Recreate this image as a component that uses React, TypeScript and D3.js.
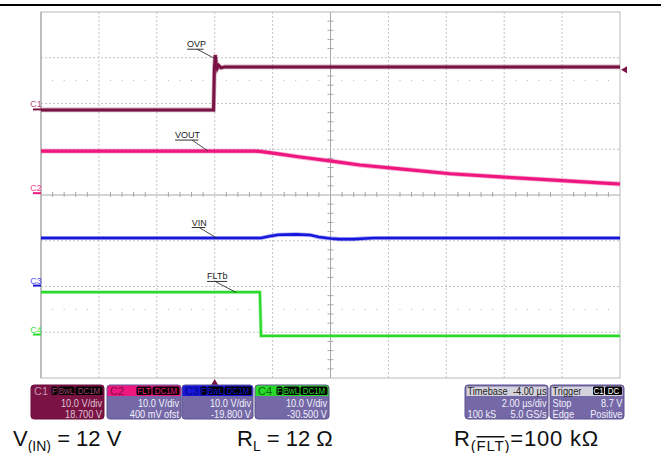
import React from 'react';
import * as d3 from 'd3';

const W = 661, H = 453;
const PX0 = 41, PX1 = 620, PY0 = 12, PY1 = 378;

// time axis (µs): 2 µs/div, 10 divs, trigger at 3rd div
const timeDomain = [-6, 14];
const divDomain = [-4, 4];

// Channel settings (V/div, offset V)
const chNames = ['C1', 'C2', 'C3', 'C4'];
const chColors = ['#7b1244', '#ee1780', '#1616dc', '#2ada2a'];
const chLabelColors = ['#b0507e', '#f0408e', '#5050f0', '#44e044'];
const chVdiv = [10, 10, 10, 10];
const chOffset = [18.7, 0.4, -19.8, -30.5];

// OVP (C1)
const ovpT = [-6, -0.04, -0.01, 0.02, 0.05, 0.09, 0.14, 0.22, 0.35, 14];
const ovpV = [-0.1, -0.1, 9.2, 11.9, 10.2, 9.0, 9.6, 9.1, 9.3, 9.3];
// VOUT (C2)
const voutT = [-6, 1.2, 1.56, 2.2, 2.95, 3.98, 5.02, 6.4, 8.13, 9.86, 11.58, 13.31, 14];
const voutV = [9.2, 9.2, 9.15, 8.6, 7.9, 7.05, 6.15, 5.3, 4.25, 3.55, 2.9, 2.25, 2.0];
// VIN (C3)
const vinT = [-6, 1.6, 1.9, 2.2, 2.8, 3.3, 3.6, 4.0, 4.3, 4.8, 5.2, 5.5, 14];
const vinV = [10.4, 10.4, 10.8, 11.1, 11.2, 11.05, 10.6, 10.3, 10.15, 10.15, 10.3, 10.4, 10.4];
// FLTb (C4)
const fltT = [-6, 1.56, 1.6, 14];
const fltV = [9.25, 9.25, -0.3, -0.3];

const annText = ['OVP', 'VOUT', 'VIN', 'FLTb'];
const annCh = [0, 1, 2, 3];
const annT = [-0.02, -0.23, 0.07, 0.74];
const annV = [11.2, 9.2, 10.4, 9.2];

const trigLevel = 8.7;

const CT = (p: { x: number; y: number; a?: string; s: number; f: string; children: any }) => (
  <text transform={`translate(${p.x},${p.y}) scale(0.88,1)`} fontSize={p.s} textAnchor={p.a || 'start'} fill={p.f}>{p.children}</text>
);

export default function App() {
  const x = d3.scaleLinear().domain(timeDomain).range([PX0, PX1]);
  const y = d3.scaleLinear().domain(divDomain).range([PY1, PY0]);
  const yv = (ch: number, v: number) => y((v + chOffset[ch]) / chVdiv[ch]);

  const series = [
    { t: ovpT, v: ovpV, w: 3 },
    { t: voutT, v: voutV, w: 3.2 },
    { t: vinT, v: vinV, w: 2.6 },
    { t: fltT, v: fltV, w: 2.2 },
  ];

  const xDivs = d3.range(1, 10).map(i => PX0 + (PX1 - PX0) * i / 10);
  const yDivs = d3.range(-3, 4);
  const minor = d3.range(1, 50).map(i => PX0 + (PX1 - PX0) * i / 50).filter((_, i) => (i + 1) % 5 !== 0);
  const minorY = d3.range(1, 40).map(i => PY0 + (PY1 - PY0) * i / 40).filter((_, i) => (i + 1) % 5 !== 0);
  const xc = (PX0 + PX1) / 2, yc = y(0);

  const annLayout = [
    { dx: -27, dy: -11, lx: -17 },
    { dx: -33, dy: -13, lx: -16 },
    { dx: -25, dy: -12.5, lx: -17.5 },
    { dx: -29, dy: -13, lx: -21 },
  ];
  const annW = [16.5, 23.5, 13.5, 20];

  const font = 'Arial, "Liberation Sans", sans-serif';

  const chBoxes = [
    { x: 31, w: 73, tags: ['F', 'BwL', 'DC1M'], tw: [6, 16, 27], l2: '10.0 V/div', l3: '18.700 V' },
    { x: 107, w: 74, tags: ['FLT', 'DC1M'], tw: [15, 27], l2: '10.0 V/div', l3: '400 mV ofst' },
    { x: 182, w: 71, tags: ['F', 'BwL', 'DC1M'], tw: [6, 16, 27], l2: '10.0 V/div', l3: '-19.800 V' },
    { x: 255, w: 74, tags: ['F', 'BwL', 'DC1M'], tw: [6, 16, 27], l2: '10.0 V/div', l3: '-30.500 V' },
  ];
  const BY = 385, BH = 34;
  const bodyCol = '#7468a6';
  const textCol = '#f2f0fa';

  return (
    <svg width={W} height={H} style={{ position: 'absolute', left: 0, top: 0, background: '#fff' }} fontFamily={font}>
      <rect x={0} y={0} width={W} height={H} fill="#fff" />
      <line x1={0} x2={W} y1={5} y2={5} stroke="#000" strokeWidth={2} />
      {/* grid */}
      {xDivs.map((gx, i) => (
        <line key={'vx' + i} x1={gx} x2={gx} y1={PY0} y2={PY1} stroke={i === 4 ? '#a8a8a8' : '#c4c4c4'}
          strokeWidth={1} strokeDasharray={i === 4 ? undefined : '2,2'} />
      ))}
      {yDivs.map(d => (
        <line key={'hy' + d} x1={PX0} x2={PX1} y1={y(d)} y2={y(d)} stroke={d === 0 ? '#a8a8a8' : '#c4c4c4'}
          strokeWidth={1} strokeDasharray={d === 0 ? undefined : '2,2'} />
      ))}
      {minor.map((mx, i) => (
        <line key={'tx' + i} x1={mx} x2={mx} y1={yc - 3} y2={yc + 2} stroke="#a8a8a8" />
      ))}
      {minorY.map((my, i) => (
        <line key={'ty' + i} x1={xc - 3} x2={xc + 3} y1={my} y2={my} stroke="#a8a8a8" />
      ))}
      {[2.5, -2.5].map(d => minor.map((mx, i) => (
        <rect key={'dot' + d + i} x={mx - 0.5} y={y(d) - 0.5} width={1} height={1} fill="#b4b4b4" />
      )))}
      <rect x={PX0} y={PY0} width={PX1 - PX0} height={PY1 - PY0} fill="none" stroke="#b8b8b8" strokeWidth={1} />
      <line x1={PX0} x2={PX0} y1={PY0} y2={PY1} stroke="#bdbdbd" strokeWidth={2} />

      {/* channel ground markers */}
      {chNames.map((n, i) => (
        <g key={'gm' + n}>
          <line x1={33} x2={41} y1={yv(i, 0)} y2={yv(i, 0)} stroke={chColors[i]} strokeWidth={2} />
          <text x={36} y={yv(i, 0) - 2} fontSize={9} fill={chLabelColors[i]} textAnchor="middle">{n}</text>
        </g>
      ))}

      {/* traces */}
      {series.map((s, i) => {
        const line = d3.line<number>().x((_, k) => x(s.t[k])).y((_, k) => yv(i, s.v[k]));
        const d = line(s.v) || '';
        return (
          <g key={'tr' + i}>
            <path d={d} fill="none" stroke={chColors[i]} strokeOpacity={0.35} strokeWidth={s.w + 1.6} />
            <path d={d} fill="none" stroke={chColors[i]} strokeWidth={s.w} />
          </g>
        );
      })}

      {/* annotations */}
      {annText.map((t, i) => {
        const ax = x(annT[i]), ay = yv(annCh[i], annV[i]);
        const L = annLayout[i];
        const tx = ax + L.dx, ty = ay + L.dy;
        return (
          <g key={'an' + i}>
            <text x={tx} y={ty} fontSize={9} fill="#222">{t}</text>
            <line x1={tx} x2={tx + annW[i]} y1={ty + 2} y2={ty + 2} stroke="#333" strokeWidth={1} />
            <line x1={ax + L.lx} y1={ty + 2} x2={ax} y2={ay} stroke="#333" strokeWidth={0.9} />
          </g>
        );
      })}

      {/* trigger markers */}
      <path d={`M${x(0) - 3.5},${385} L${x(0) + 3.5},${385} L${x(0)},${379} Z`} fill="#7b1244" />
      <path d={`M${PX1 + 1},${yv(0, trigLevel)} L${PX1 + 7},${yv(0, trigLevel) - 3.5} L${PX1 + 7},${yv(0, trigLevel) + 3.5} Z`} fill="#7b1244" />

      {/* channel boxes */}
      {chBoxes.map((b, i) => {
        const isC1 = i === 0;
        let tagX = b.x + b.w - 1.5;
        const tagPos = b.tags.map(() => 0);
        for (let k = b.tags.length - 1; k >= 0; k--) { tagX -= b.tw[k]; tagPos[k] = tagX; tagX -= 1; }
        const bt = isC1 ? '#d9c4d4' : textCol;
        return (
          <g key={'cb' + i}>
            <rect x={b.x} y={BY} width={b.w} height={BH} rx={3} fill={isC1 ? '#7b1244' : bodyCol} stroke={isC1 ? '#6a0e3a' : '#5c5290'} strokeWidth={1} />
            <path d={`M${b.x + 0.5},${BY + 11} L${b.x + 0.5},${BY + 3} Q${b.x + 0.5},${BY + 0.5} ${b.x + 3},${BY + 0.5} L${b.x + b.w - 3},${BY + 0.5} Q${b.x + b.w - 0.5},${BY + 0.5} ${b.x + b.w - 0.5},${BY + 3} L${b.x + b.w - 0.5},${BY + 11} Z`} fill={chColors[i]} />
            <text x={b.x + 3} y={BY + 9.8} fontSize={11} fill={isC1 ? '#c893b0' : i === 1 ? '#8a0c48' : i === 2 ? '#08087a' : '#0b6a0b'}>{chNames[i]}</text>
            {b.tags.map((tg, k) => (
              <g key={tg}>
                <rect x={tagPos[k]} y={BY + 1.5} width={b.tw[k]} height={8.5} rx={1.5} fill="#000" />
                <CT x={tagPos[k] + b.tw[k] / 2} y={BY + 8.9} a="middle" s={9} f={isC1 ? '#a04070' : chColors[i]}>{tg}</CT>
              </g>
            ))}
            <CT x={b.x + b.w - 2} y={BY + 21.5} a="end" s={10.5} f={bt}>{b.l2}</CT>
            <CT x={b.x + b.w - 2} y={BY + 32.5} a="end" s={10.5} f={bt}>{b.l3}</CT>
          </g>
        );
      })}

      {/* timebase box */}
      <g>
        <rect x={465} y={BY} width={83} height={BH} rx={3} fill={bodyCol} stroke="#5c5290" />
        <rect x={466.5} y={BY + 1.5} width={80} height={9.5} fill="#d4d2dc" />
        <CT x={467.5} y={BY + 9.8} s={10.5} f="#222">Timebase</CT>
        <CT x={546.5} y={BY + 9.8} s={10.5} f="#222" a="end">-4.00 µs</CT>
        <CT x={546.5} y={BY + 21.5} s={10.5} f={textCol} a="end">2.00 µs/div</CT>
        <CT x={467.5} y={BY + 32.5} s={10.5} f={textCol}>100 kS</CT>
        <CT x={546.5} y={BY + 32.5} s={10.5} f={textCol} a="end">5.0 GS/s</CT>
      </g>
      <g>
        <rect x={550} y={BY} width={74} height={BH} rx={3} fill={bodyCol} stroke="#5c5290" />
        <rect x={551.5} y={BY + 1.5} width={71} height={9.5} fill="#d4d2dc" />
        <CT x={552.5} y={BY + 9.8} s={10.5} f="#222">Trigger</CT>
        <rect x={593} y={BY + 1.5} width={11} height={8.5} rx={1.5} fill="#000" />
        <CT x={598.5} y={BY + 8.9} s={9} f="#fff" a="middle">C1</CT>
        <rect x={605} y={BY + 1.5} width={17} height={8.5} rx={1.5} fill="#000" />
        <CT x={613.5} y={BY + 8.9} s={9} f="#fff" a="middle">DC</CT>
        <CT x={552.5} y={BY + 21.5} s={10.5} f={textCol}>Stop</CT>
        <CT x={622.5} y={BY + 21.5} s={10.5} f={textCol} a="end">8.7 V</CT>
        <CT x={552.5} y={BY + 32.5} s={10.5} f={textCol}>Edge</CT>
        <CT x={622.5} y={BY + 32.5} s={10.5} f={textCol} a="end">Positive</CT>
      </g>

      {/* captions */}
      <text x={13} y={446} fontSize={22} fill="#111">V<tspan fontSize={14} dy={5}>(IN)</tspan><tspan dy={-5}> = 12 V</tspan></text>
      <text x={237} y={446} fontSize={22} fill="#111">R<tspan fontSize={14} dy={5}>L</tspan><tspan dy={-5}> = 12 Ω</tspan></text>
      <text x={454} y={446} fontSize={22} fill="#111" letterSpacing={0.8}>R<tspan fontSize={15} dy={5}>(<tspan textDecoration="overline">FLT</tspan>)</tspan><tspan dy={-5}>=100 kΩ</tspan></text>
    </svg>
  );
}
